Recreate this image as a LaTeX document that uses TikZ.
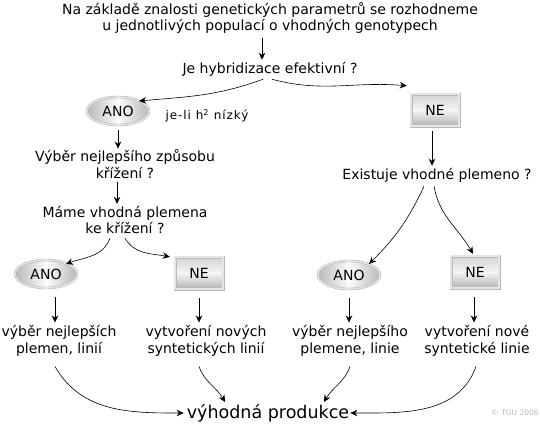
\documentclass[tikz,border=0pt]{standalone}
\usepackage{fontspec}
\setmainfont{DejaVu Sans}
\usetikzlibrary{shapes.geometric,arrows.meta}
\begin{document}
\begin{tikzpicture}[x=1pt,y=-1pt,
  txt/.style={font=\fontsize{14}{16.5}\selectfont, align=center, inner sep=0pt},
  arr/.style={-{Stealth[length=7pt,width=6.5pt]}, line width=0.6pt},
  anobox/.style={ellipse, minimum width=62pt, minimum height=28pt, inner sep=0pt,
     draw=gray!65, double=gray!22, double distance=1.6pt,
     left color=gray!55, right color=gray!55, middle color=gray!3,
     font=\fontsize{14}{16}\selectfont},
  nebox/.style={rectangle, minimum width=48pt, minimum height=32pt, inner sep=0pt,
     draw=gray!55, double=gray!20, double distance=2.2pt,
     top color=gray!35, bottom color=gray!60, middle color=gray!8,
     font=\fontsize{14}{16}\selectfont}
]
\useasboundingbox[fill=white] (0,0) rectangle (540,429);

\node[txt] (t1) at (270,18) {Na základě znalosti genetických parametrů se rozhodneme\\u jednotlivých populací o vhodných genotypech};
\node[txt] (q1) at (270,69) {Je hybridizace efektivní ?};
\draw[arr] ([xshift=-8pt,yshift=-4pt]t1.south) -- ([xshift=-8pt,yshift=2pt]q1.north);

\node[anobox] (ano1) at (118,111) {ANO};
\node[font=\fontsize{12}{14}\selectfont\addfontfeatures{LetterSpace=8}, inner sep=0pt] (h) at (207,116) {je-li h\textsuperscript{2} nízký};
\node[nebox] (ne1) at (435,110) {NE};

\draw[arr] ([xshift=-7pt,yshift=-3pt]q1.south) to[out=200,in=5] ([xshift=-1pt]ano1.north east);
\draw[arr] ([xshift=2pt,yshift=-3pt]q1.south) to[out=-15,in=175] ([xshift=-4pt,yshift=8pt]ne1.north west);

\node[txt] (q2) at (125,164) {Výběr nejlepšího způsobu\\křížení ?};
\node[txt] (q3) at (125,220) {Máme vhodná plemena\\ke křížení ?};
\draw[arr] ([yshift=-5pt]ano1.south) -- ([yshift=1pt]ano1.south |- q2.north);
\draw[arr] ([xshift=-8pt,yshift=-4pt]q2.south) -- ([xshift=-8pt,yshift=2pt]q3.north);

\node[anobox] (ano2) at (46,274) {ANO};
\node[nebox] (ne2) at (199,273) {NE};
\draw[arr] ([xshift=-15pt,yshift=-4pt]q3.south) to[out=-110,in=20] ([xshift=-2pt]ano2.north east);
\draw[arr] ([xshift=0pt,yshift=-4pt]q3.south) to[out=-60,in=170] ([xshift=-5pt]ne2.north west);

\node[txt] (q4) at (437,175) {Existuje vhodné plemeno ?};
\draw[arr] ([xshift=-3pt,yshift=-5pt]ne1.south) -- ([xshift=-3pt,yshift=2pt]ne1.south |- q4.north);

\node[anobox] (ano3) at (349,275) {ANO};
\node[nebox] (ne3) at (475,272) {NE};
\draw[arr] ([xshift=-13pt,yshift=-4pt]q4.south) to[out=-115,in=45] ([xshift=-2pt,yshift=1pt]ano3.north east);
\draw[arr] ([xshift=-3pt,yshift=-4pt]q4.south) to[out=-80,in=120] ([xshift=-2pt,yshift=2pt]ne3.north);

\node[txt] (r1) at (59,341) {výběr nejlepších\\plemen, linií};
\node[txt] (r2) at (206,341) {vytvoření nových\\syntetických linií};
\node[txt] (r3) at (350,341) {výběr nejlepšího\\plemene, linie};
\node[txt] (r4) at (477,341) {vytvoření nové\\syntetické linie};

\draw[arr] ([xshift=9pt,yshift=-9pt]ano2.south) -- ([xshift=9pt,yshift=3pt]ano2.south |- r1.north);
\draw[arr] ([yshift=-9pt]ne2.south) -- ([yshift=3pt]ne2.south |- r2.north);
\draw[arr] ([yshift=-9pt]ano3.south) -- ([yshift=3pt]ano3.south |- r3.north);
\draw[arr] ([xshift=-1pt,yshift=-9pt]ne3.south) -- ([xshift=-1pt,yshift=3pt]ne3.south |- r4.north);

\node[font=\fontsize{17.5}{20}\selectfont, inner sep=0pt] (vp) at (268,413) {výhodná produkce};
\node[font=\fontsize{7.5}{9}\selectfont, text=gray!55, inner sep=0pt] (cp) at (515,413) {© TGU 2006};

\draw[arr] ([xshift=-4pt,yshift=-10pt]r1.south) to[out=-60,in=180] ([xshift=-3pt]vp.west);
\draw[arr] ([xshift=-7pt,yshift=-10pt]r2.south) to[out=-70,in=120] ([xshift=-43pt,yshift=2pt]vp.north);
\draw[arr] ([xshift=0pt,yshift=-10pt]r3.south) to[out=-110,in=60] ([xshift=56pt,yshift=2pt]vp.north);
\draw[arr] ([xshift=-1pt,yshift=-10pt]r4.south) to[out=-110,in=0] ([xshift=1pt]vp.east);
\end{tikzpicture}
\end{document}
